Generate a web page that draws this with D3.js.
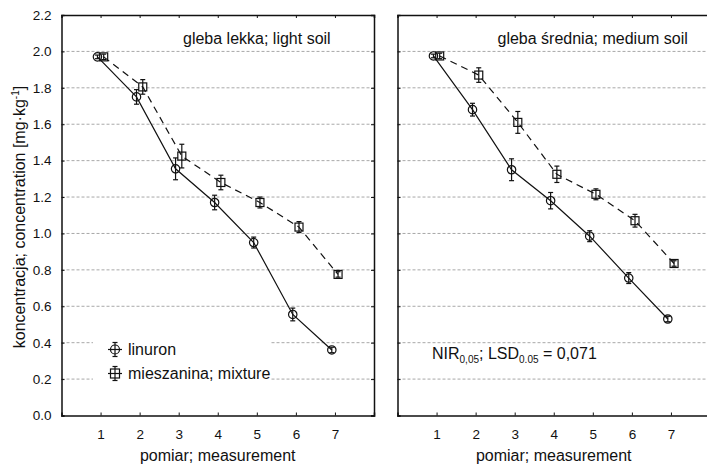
<!DOCTYPE html>
<html>
<head>
<meta charset="utf-8">
<script src="https://cdn.jsdelivr.net/npm/d3@7"></script>
<style>
  body { margin: 0; background: #fff; }
  text { font-family: "Liberation Sans", Arial, sans-serif; fill: #111; }
</style>
</head>
<body>
<div class="chart-container"></div>
<script>
// Data
const measurements = [1, 2, 3, 4, 5, 6, 7];
const yTicks = [0.0, 0.2, 0.4, 0.6, 0.8, 1.0, 1.2, 1.4, 1.6, 1.8, 2.0, 2.2];

const lightLinuron = [1.97, 1.75, 1.355, 1.17, 0.95, 0.555, 0.36];
const lightLinuronErr = [0.01, 0.04, 0.06, 0.04, 0.03, 0.035, 0.015];
const lightMixture = [1.97, 1.805, 1.425, 1.28, 1.17, 1.035, 0.775];
const lightMixtureErr = [0.015, 0.04, 0.065, 0.04, 0.03, 0.03, 0.015];

const mediumLinuron = [1.975, 1.68, 1.35, 1.18, 0.985, 0.755, 0.53];
const mediumLinuronErr = [0.01, 0.035, 0.06, 0.045, 0.03, 0.03, 0.015];
const mediumMixture = [1.975, 1.87, 1.61, 1.325, 1.215, 1.07, 0.835];
const mediumMixtureErr = [0.015, 0.04, 0.06, 0.045, 0.03, 0.035, 0.015];

const panelTitles = ["gleba lekka; light soil", "gleba średnia; medium soil"];
const seriesNames = ["linuron", "mieszanina; mixture"];

const width = 707;
const height = 464;
const plotTop = 15, plotBottom = 415.5;
const panelLefts = [61.5, 397.5];
const panelWidth = 312.5;

const svg = d3.select(".chart-container")
  .append("svg")
  .attr("width", width)
  .attr("height", height);

const y = d3.scaleLinear().domain([0, 2.2]).range([plotBottom, plotTop]);

const panels = [
  { title: panelTitles[0], lin: lightLinuron, linErr: lightLinuronErr, mix: lightMixture, mixErr: lightMixtureErr },
  { title: panelTitles[1], lin: mediumLinuron, linErr: mediumLinuronErr, mix: mediumMixture, mixErr: mediumMixtureErr }
];

panels.forEach((p, i) => {
  const x0 = panelLefts[i];
  const x = d3.scaleLinear().domain([0, 8]).range([x0, x0 + panelWidth]);
  const g = svg.append("g");

  // dotted grid
  g.selectAll(".grid")
    .data(yTicks.filter(d => d > 0 && d < 2.2))
    .enter().append("line")
    .attr("x1", x0).attr("x2", x0 + panelWidth)
    .attr("y1", d => y(d)).attr("y2", d => y(d))
    .attr("stroke", "#a8a8a8")
    .attr("stroke-width", 1)
    .attr("stroke-dasharray", "3,2");

  // axes (inner ticks on all four sides)
  const axB = g.append("g").attr("transform", `translate(0,${plotBottom})`)
    .call(d3.axisBottom(x).tickValues(measurements).tickSize(-3).tickPadding(14).tickFormat(d3.format("d")));
  const axT = g.append("g").attr("transform", `translate(0,${plotTop})`)
    .call(d3.axisTop(x).tickValues(measurements).tickSize(-3).tickFormat(""));
  const axL = g.append("g").attr("transform", `translate(${x0},0)`)
    .call(d3.axisLeft(y).tickValues(yTicks).tickSize(-3).tickPadding(10).tickFormat(d3.format(".1f")));
  const axR = g.append("g").attr("transform", `translate(${x0 + panelWidth},0)`)
    .call(d3.axisRight(y).tickValues(yTicks).tickSize(-3).tickFormat(""));
  [axB, axT, axL, axR].forEach(a => {
    a.select(".domain").attr("stroke", "#111").attr("stroke-width", 1.5);
    a.selectAll(".tick line").attr("stroke", "#111");
  });
  axB.selectAll("text").style("font-size", "13.5px").style("font-family", "Liberation Sans, Arial");
  axL.selectAll("text").style("font-size", "13.5px").style("font-family", "Liberation Sans, Arial");
  if (i === 1) axL.selectAll(".tick text").remove();

  // series
  const series = [
    { vals: p.lin, err: p.linErr, dx: -0.08, dash: null, shape: "circle" },
    { vals: p.mix, err: p.mixErr, dx: 0.08, dash: "7,5", shape: "square" }
  ];
  series.forEach(s => {
    const pts = measurements.map((m, k) => ({ m: m + s.dx, v: s.vals[k], e: s.err[k] }));
    g.append("path")
      .datum(pts)
      .attr("fill", "none")
      .attr("stroke", "#111")
      .attr("stroke-width", 1.2)
      .attr("stroke-dasharray", s.dash)
      .attr("d", d3.line().x(d => x(d.m)).y(d => y(d.v)));
    drawMarkers(g, pts, x, s.shape);
  });

  // panel title
  g.append("text")
    .attr("x", i === 0 ? 183 : 497.5)
    .attr("y", 44)
    .style("font-size", "16px")
    .text(p.title);

  // x label
  g.append("text")
    .attr("x", x(4))
    .attr("y", 461)
    .attr("text-anchor", "middle")
    .style("font-size", "16px")
    .text("pomiar; measurement");
});

function drawMarkers(g, pts, x, shape) {
  const mg = g.selectAll(null).data(pts).enter().append("g")
    .attr("transform", d => `translate(${x(d.m)},${y(d.v)})`);
  mg.append("line")
    .attr("x1", 0).attr("x2", 0)
    .attr("y1", d => y(d.v + d.e) - y(d.v))
    .attr("y2", d => y(d.v - d.e) - y(d.v))
    .attr("stroke", "#111").attr("stroke-width", 1.2);
  [1, -1].forEach(sgn => {
    mg.append("line")
      .attr("x1", -2.5).attr("x2", 2.5)
      .attr("y1", d => y(d.v + sgn * d.e) - y(d.v))
      .attr("y2", d => y(d.v + sgn * d.e) - y(d.v))
      .attr("stroke", "#111").attr("stroke-width", 1.2);
  });
  if (shape === "circle") {
    mg.append("circle").attr("r", 4.2)
      .attr("fill", "none").attr("stroke", "#111").attr("stroke-width", 1.2);
  } else {
    mg.append("rect").attr("x", -4).attr("y", -4).attr("width", 8).attr("height", 8)
      .attr("fill", "none").attr("stroke", "#111").attr("stroke-width", 1.2);
  }
}

// legend in the left panel
svg.append("rect")
  .attr("x", 93).attr("y", 330).attr("width", 178).attr("height", 60)
  .attr("fill", "#fff");
const legend = svg.append("g");
seriesNames.forEach((name, k) => {
  const ly = 349.5 + k * 24;
  const lg = legend.append("g").attr("transform", `translate(115,${ly})`);
  lg.append("line").attr("x1", 0).attr("x2", 0).attr("y1", -7).attr("y2", 7).attr("stroke", "#111").attr("stroke-width", 1.2);
  lg.append("line").attr("x1", -2.5).attr("x2", 2.5).attr("y1", -7).attr("y2", -7).attr("stroke", "#111").attr("stroke-width", 1.2);
  lg.append("line").attr("x1", -2.5).attr("x2", 2.5).attr("y1", 7).attr("y2", 7).attr("stroke", "#111").attr("stroke-width", 1.2);
  lg.append("line").attr("x1", -7).attr("x2", 7).attr("y1", 0).attr("y2", 0).attr("stroke", "#111").attr("stroke-width", 1.2);
  if (k === 0) {
    lg.append("circle").attr("r", 4.5).attr("fill", "none").attr("stroke", "#111").attr("stroke-width", 1.2);
  } else {
    lg.append("rect").attr("x", -4.5).attr("y", -4.5).attr("width", 9).attr("height", 9)
      .attr("fill", "none").attr("stroke", "#111").attr("stroke-width", 1.2);
  }
  legend.append("text")
    .attr("x", 128).attr("y", ly + 5.5)
    .style("font-size", "16px")
    .text(name);
});

// NIR / LSD note in the right panel
const nir = svg.append("text").attr("x", 432).attr("y", 359).style("font-size", "16px");
nir.append("tspan").text("NIR");
nir.append("tspan").attr("dy", 4).style("font-size", "10px").text("0,05");
nir.append("tspan").attr("dy", -4).text("; LSD");
nir.append("tspan").attr("dy", 4).style("font-size", "10px").text("0.05");
nir.append("tspan").attr("dy", -4).text(" = 0,071");

// y axis label
const yl = svg.append("text")
  .attr("transform", "translate(25,217) rotate(-90)")
  .attr("text-anchor", "middle")
  .style("font-size", "16px");
yl.append("tspan").text("koncentracja; concentration [mg·kg");
yl.append("tspan").attr("dy", -6).style("font-size", "10px").text("-1");
yl.append("tspan").attr("dy", 6).text("]");
</script>
</body>
</html>
